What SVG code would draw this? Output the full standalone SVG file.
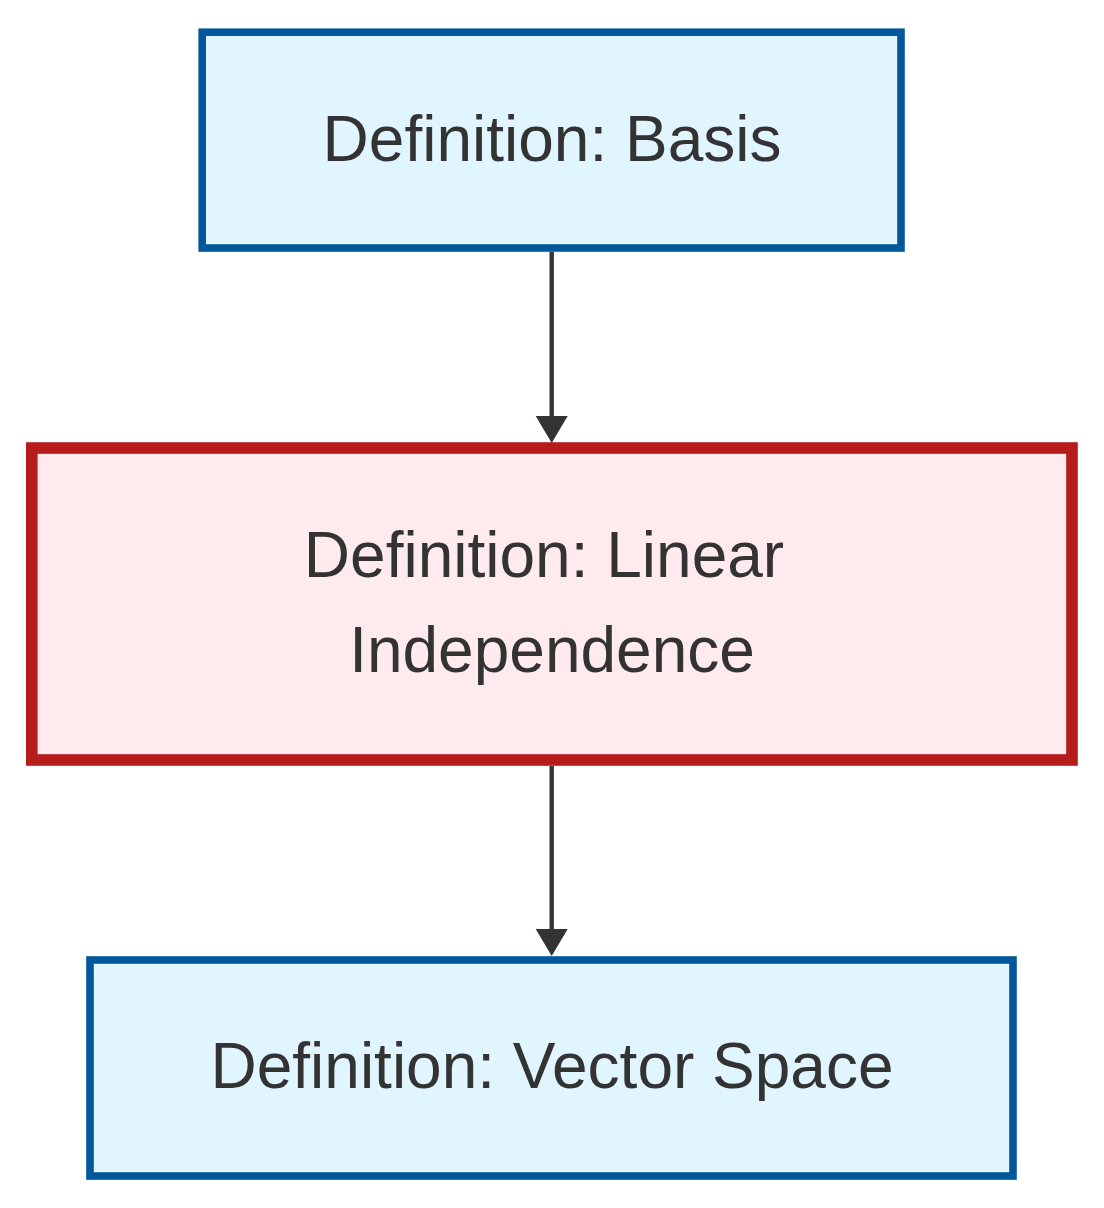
<svg xmlns="http://www.w3.org/2000/svg" width="1104" height="1208" viewBox="0 0 1104 1208">
  <style>
    .blue rect { fill: #e1f5fe; stroke: #01579b; stroke-width: 7.6; }
    .red rect { fill: #ffebee; stroke: #b71c1c; stroke-width: 11.6; }
    .label { font-family: "Liberation Sans", Arial, sans-serif; font-size: 64px; fill: #333333; text-anchor: middle; }
    .edge { stroke: #333333; stroke-width: 4.4; fill: none; marker-end: url(#arrow); }
  </style>
  <defs>
    <marker id="arrow" markerUnits="userSpaceOnUse" markerWidth="28" markerHeight="34" refX="0" refY="16" orient="auto" viewBox="0 0 28 34">
      <path d="M0,0 L27,16 L0,32 z" fill="#333333"/>
    </marker>
  </defs>
  <rect width="1104" height="1208" fill="#ffffff"/>
  <g id="connectors">
    <line class="edge" x1="551.7" y1="252" x2="551.7" y2="416"/>
    <line class="edge" x1="551.7" y1="766" x2="551.7" y2="929"/>
  </g>
  <g id="node-basis" class="blue">
    <rect x="202.2" y="32.2" width="698.8" height="215.8"/>
    <text class="label" x="552" y="161">Definition: Basis</text>
  </g>
  <g id="node-linear-independence" class="red">
    <rect x="31.8" y="448" width="1040.2" height="312"/>
    <text class="label" x="544" y="577">Definition: Linear</text>
    <text class="label" x="552" y="672">Independence</text>
  </g>
  <g id="node-vector-space" class="blue">
    <rect x="90" y="960" width="923" height="216"/>
    <text class="label" x="552" y="1088">Definition: Vector Space</text>
  </g>
</svg>
